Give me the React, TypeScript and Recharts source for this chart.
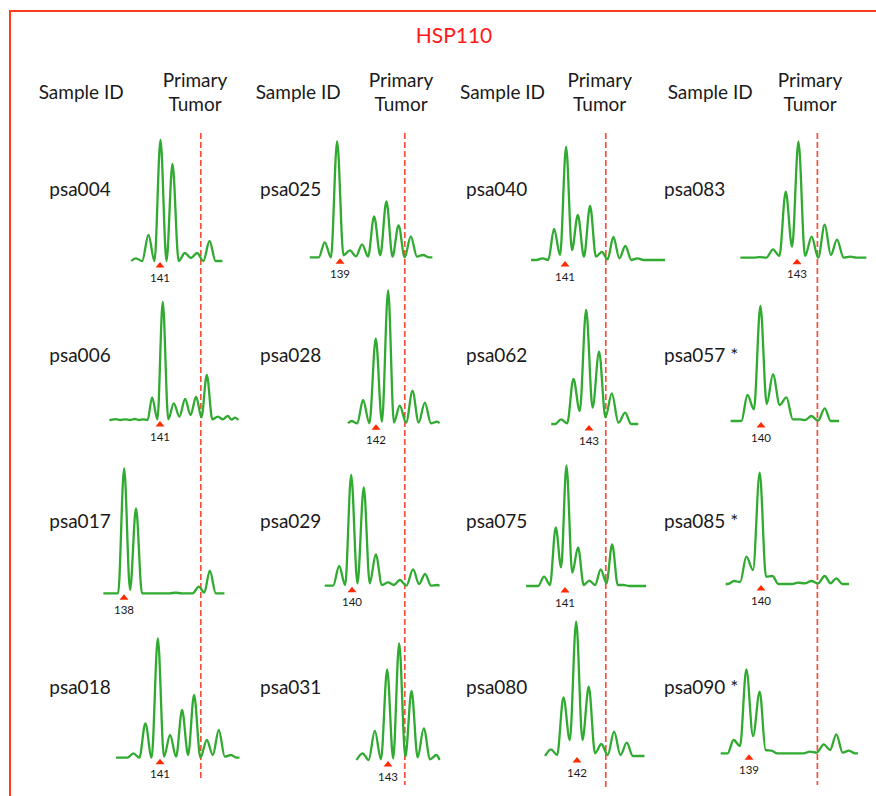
import React from "react";
import { LineChart, Line, XAxis, YAxis, ReferenceLine, ReferenceDot } from "recharts";

// samples, read row by row across the four column groups
const sampleIds = [
  "psa004", "psa025", "psa040", "psa083",
  "psa006", "psa028", "psa062", "psa057 *",
  "psa017", "psa029", "psa075", "psa085 *",
  "psa018", "psa031", "psa080", "psa090 *",
];

// allele size called under each trace (bp)
const alleleCalls = [141, 139, 141, 143, 141, 142, 143, 140, 138, 140, 141, 140, 141, 143, 142, 139];

// primary tumor allele position marked in each column group (bp)
const tumorSizes = [144.4, 144.4, 144.4, 144.7];

// fragment sizes (bp) of each peak in the trace
const peakSizes = [
  [138.98, 140.04, 141.04, 142.04, 143.07, 144.09, 145.13],
  [137.73, 138.76, 139.82, 140.84, 141.84, 142.87, 143.88, 144.9, 145.93],
  [139.12, 140.09, 141.09, 142.07, 143.09, 144.07, 145.03, 146.03, 147.03],
  [139.89, 141.0, 142.06, 143.12, 144.22, 145.31, 146.33, 147.45],
  [137.3, 138.1, 138.9, 139.6, 140.34, 141.23, 142.15, 143.09, 144.01, 144.9, 145.82, 146.65, 147.26],
  [139.96, 140.92, 141.98, 143.01, 143.98, 145.04, 146.07, 147.09],
  [140.67, 141.7, 142.76, 143.84, 144.9, 146.01],
  [138.87, 139.95, 141.0, 142.12, 143.17, 144.2, 145.31],
  [138.01, 139.0, 142.3, 144.23, 145.15],
  [138.93, 139.93, 140.98, 141.98, 143.01, 143.98, 145.09, 146.09, 147.09],
  [139.26, 140.23, 141.12, 142.09, 143.03, 143.98, 144.93, 145.87],
  [137.75, 138.78, 139.89, 140.95, 143.08, 144.2, 145.31, 146.28],
  [138.78, 139.78, 140.82, 141.84, 142.84, 143.84, 144.9, 145.9, 146.9],
  [140.88, 141.9, 142.93, 143.93, 144.96, 145.98, 147.04],
  [139.82, 140.87, 141.93, 142.98, 144.03, 145.09, 146.15],
  [137.72, 138.78, 139.89, 140.87, 144.06, 145.23, 146.28, 147.33],
];

// relative signal at each peak
const peakHeights = [
  [2.7, 26, 121, 97, 8, 8, 20],
  [15, 116, 7, 13, 41, 56, 32, 21, 2.3],
  [1.7, 31, 113, 45, 54, 8, 23, 14, 1.7],
  [0.5, 8.3, 66, 116, 21, 33, 18, 1],
  [0.8, 0.6, 1, 0.7, 22.7, 118, 16.7, 21, 23.3, 45, 3.3, 4, 2.3],
  [2.3, 23.3, 85, 133, 17.7, 32.3, 20.7, 1.7],
  [4.7, 45, 114, 72.3, 30.7, 11.3],
  [26, 115, 46.7, 23.7, 1.7, 5, 12.7],
  [125, 85, 0.6, 6.7, 22.7],
  [19.7, 110.7, 98.3, 31.3, 3.3, 5.7, 16.3, 11.7, 0.7],
  [9.3, 58.7, 120.3, 38.7, 5.3, 16.7, 41.7, 1],
  [3, 27.3, 111.3, 8, 1.3, 3, 8, 5.7],
  [4.3, 34.3, 119.3, 22.7, 47.7, 62.7, 17.7, 27.7, 2.7],
  [6.7, 29.3, 90.7, 116.7, 69, 31.7, 5],
  [6.7, 58.7, 134.3, 69.3, 12, 24.3, 13.3],
  [13.3, 84, 61.7, 2.7, 1.7, 9, 19, 2.7],
];

// signal in the valley between neighbouring peaks
const valleyHeights = [
  [0, 0, 0, 0, 3, 0],
  [0, 2, 1, 0.7, 2, 0.7, 0, 0.7],
  [0, 5, 10, 3.3, 3.3, 0.7, 1.7, 0],
  [0, 1.7, 11, 1.7, 0, 2.7, 0],
  [0, 0, 0, 0, 0.7, 0.7, 3.3, 5, 2.7, 0.7, 0.7, 0.3],
  [0, 0, 1.7, 0.7, 0.7, 0.7, 0],
  [0.7, 13, 16.3, 6.7, 1.3],
  [11.7, 17, 16, 1.7, 1, 0.3],
  [3.3, 0, 0, 0.7],
  [0.7, 2.3, 2.3, 0.7, 0.7, 0, 1.7, 0],
  [1, 18.7, 13.3, 1, 1, 2.7, 1],
  [2, 14, 7.3, 0, 0.7, 0.7, 0.7],
  [0, 0, 1, 1, 2.7, 0, 2.7, 1],
  [0, 0.7, 1.7, 3.3, 2.7, 0.7],
  [1, 16, 16, 2.7, 1, 1],
  [7.3, 17.3, 3.3, 0, 0.7, 3.3, 0.7],
];

// first and last size (bp) covered by each trace
const traceSpans = [
  [138.6, 146.2], [136.48, 146.7], [138.17, 149.34], [138.28, 148.78],
  [136.78, 147.53], [139.67, 147.3], [139.85, 147.1], [137.47, 146.5],
  [136.28, 146.37], [137.73, 147.3], [137.76, 147.76], [137.06, 147.33],
  [137.34, 147.62], [140.38, 147.3], [139.34, 147.62], [136.64, 148.08],
];

const title = "HSP110";

// ---- layout ----
const W = 876;
const H = 796;
const FONT = "Lato, 'Open Sans', sans-serif";
const TEXT = "#1a1a1a";
const TRACE = "#30aa30";
const DASH = "#f4503c";
const FRAME = "#ff3c1e";

const BP_MIN = 136;
const BP_MAX = 150;
const PX_PER_BP = 12;
const DASH_X = [201, 405, 605.7, 817.7];
const PLOT_TOP = 133;
const PLOT_BOTTOM = 796;
const DASH_END = [778, 785, 787, 785];
const BASELINE_Y = [
  [261, 257.3, 260, 257.7],
  [420, 423.3, 424, 421],
  [593.3, 585.7, 586, 584],
  [757.7, 760, 756, 753.3],
];
const LABEL_X = [49.3, 260, 466, 664];
const LABEL_BASE = [195.5, 361.5, 527.5, 693.5];
const SAMPLE_HEAD_X = [38.7, 255.7, 460, 667.7];
const TUMOR_HEAD_X = [195, 401, 599.7, 810];
const ROWS = [0, 1, 2, 3];
const COLS = [0, 1, 2, 3];

type Pt = { bp: number; signal: number };

// peak tops plus valley points; the monotone curve rounds them into peaks
function tracePoints(i: number): Pt[] {
  const sizes = peakSizes[i];
  const heights = peakHeights[i];
  const dips = valleyHeights[i];
  const [from, to] = traceSpans[i];
  const pts: Pt[] = [{ bp: from, signal: 0 }];
  if (sizes[0] - 0.5 > from) pts.push({ bp: sizes[0] - 0.5, signal: 0 });
  sizes.forEach((s, k) => {
    pts.push({ bp: s, signal: heights[k] });
    if (k < sizes.length - 1) {
      const next = sizes[k + 1];
      if (next - s < 1.4) {
        pts.push({ bp: (s + next) / 2, signal: dips[k] });
      } else {
        pts.push({ bp: s + 0.5, signal: 0 }, { bp: next - 0.5, signal: 0 });
      }
    }
  });
  const last = sizes[sizes.length - 1];
  if (last + 0.5 < to) pts.push({ bp: last + 0.5, signal: 0 });
  pts.push({ bp: to, signal: 0 });
  return pts;
}

function CallMarker({ cx, cy, call }: { cx: number; cy: number; call: number }) {
  return (
    <g>
      <polygon
        points={`${cx},${cy + 1} ${cx - 4.5},${cy + 6.5} ${cx + 4.5},${cy + 6.5}`}
        fill="#ff2a00"
      />
      <text x={cx} y={cy + 20.5} textAnchor="middle" fontSize={11.5} fill={TEXT} fontFamily={FONT}>
        {call}
      </text>
    </g>
  );
}

function ColumnPanel({ col }: { col: number }) {
  const top = PLOT_TOP;
  const bottom = PLOT_BOTTOM;
  const width = (BP_MAX - BP_MIN) * PX_PER_BP;
  const height = bottom - top;
  const left = DASH_X[col] - (tumorSizes[col] - BP_MIN) * PX_PER_BP;
  // the dashed marker runs from the panel top down to its own end, in row 0 units
  const base0 = BASELINE_Y[0][col];

  return (
    <div style={{ position: "absolute", left, top, width, height }}>
      <LineChart width={width} height={height} margin={{ top: 0, right: 0, bottom: 0, left: 0 }}>
        <XAxis type="number" dataKey="bp" domain={[BP_MIN, BP_MAX]} allowDataOverflow hide />
        {ROWS.map((row) => (
          <YAxis
            key={row}
            yAxisId={row}
            type="number"
            domain={[-(bottom - BASELINE_Y[row][col]), BASELINE_Y[row][col] - top]}
            allowDataOverflow
            hide
          />
        ))}
        <ReferenceLine
          segment={[
            { x: tumorSizes[col], y: base0 - top },
            { x: tumorSizes[col], y: base0 - DASH_END[col] },
          ]}
          yAxisId={0}
          stroke={DASH}
          strokeWidth={1.7}
          strokeDasharray="6 3"
        />
        {ROWS.map((row) => {
          const i = row * 4 + col;
          return (
            <Line
              key={sampleIds[i]}
              yAxisId={row}
              data={tracePoints(i)}
              dataKey="signal"
              type="monotone"
              stroke={TRACE}
              strokeWidth={2.3}
              dot={false}
              isAnimationActive={false}
            />
          );
        })}
        {ROWS.map((row) => {
          const i = row * 4 + col;
          return (
            <ReferenceDot
              key={`call-${i}`}
              x={alleleCalls[i]}
              y={0}
              yAxisId={row}
              ifOverflow="visible"
              shape={(p: any) => <CallMarker cx={p.cx} cy={p.cy} call={alleleCalls[i]} />}
            />
          );
        })}
      </LineChart>
    </div>
  );
}

export default function App() {
  return (
    <div
      style={{
        position: "absolute",
        left: 0,
        top: 0,
        width: W,
        height: H,
        overflow: "hidden",
        background: "#fff",
      }}
    >
      <svg width={W} height={H} style={{ position: "absolute", left: 0, top: 0 }}>
        <line x1={9} y1={11} x2={W} y2={11} stroke={FRAME} strokeWidth={2} />
        <line x1={10} y1={10} x2={10} y2={H} stroke={FRAME} strokeWidth={2} />
        <text x={454} y={42.7} textAnchor="middle" fontSize={21} fill="#ff1a1a" fontFamily={FONT}>
          {title}
        </text>
        {COLS.map((c) => (
          <g key={`head-${c}`} fontFamily={FONT} fontSize={19} fill={TEXT}>
            <text x={SAMPLE_HEAD_X[c]} y={99.3}>Sample ID</text>
            <text x={TUMOR_HEAD_X[c]} y={87.3} textAnchor="middle">Primary</text>
            <text x={TUMOR_HEAD_X[c]} y={110.7} textAnchor="middle">Tumor</text>
          </g>
        ))}
        {ROWS.map((r) =>
          COLS.map((c) => (
            <text
              key={`id-${r}-${c}`}
              x={LABEL_X[c]}
              y={LABEL_BASE[r]}
              fontFamily={FONT}
              fontSize={19}
              fill={TEXT}
            >
              {sampleIds[r * 4 + c]}
            </text>
          ))
        )}
      </svg>
      {COLS.map((c) => (
        <ColumnPanel key={c} col={c} />
      ))}
    </div>
  );
}
